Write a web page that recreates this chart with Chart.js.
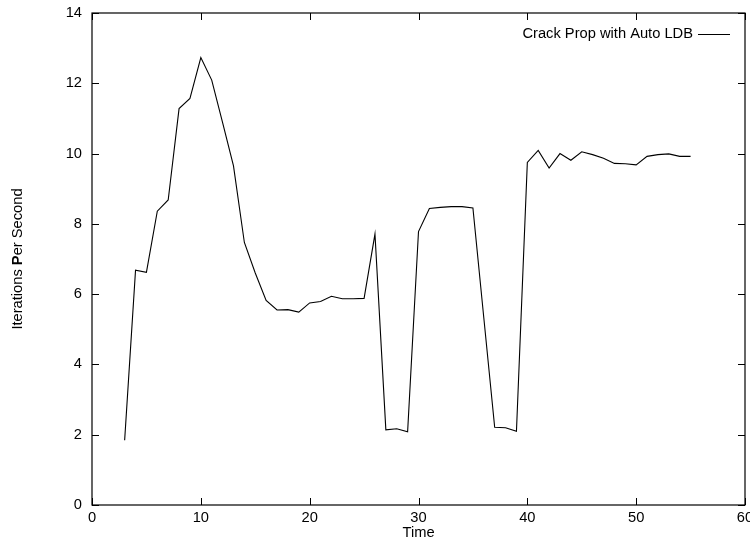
<!DOCTYPE html>
<html>
<head>
<meta charset="utf-8">
<script src="https://cdn.jsdelivr.net/npm/chart.js@4"></script>
<style>
html, body { margin: 0; padding: 0; background: #fff; }
#wrap { width: 750px; height: 543px; }
</style>
</head>
<body>
<div id="wrap"><canvas id="crackChart"></canvas></div>
<script>
const times = [3, 4, 5, 6, 7, 8, 9, 10, 11, 12, 13, 14, 15, 16, 17, 18, 19, 20, 21, 22,
    23, 24, 25, 26, 27, 28, 29, 30, 31, 32, 33, 34, 35, 36, 37, 38, 39, 40, 41, 42,
    43, 44, 45, 46, 47, 48, 49, 50, 51, 52, 53, 54, 55]
const iterationsPerSecond = [1.84, 6.68, 6.62, 8.36, 8.68, 11.28, 11.57, 12.73, 12.09, 10.88,
    9.65, 7.47, 6.6, 5.82, 5.55, 5.56, 5.49, 5.75, 5.79, 5.94,
    5.87, 5.87, 5.88, 7.71, 2.14, 2.17, 2.08, 7.78, 8.44, 8.47,
    8.49, 8.49, 8.45, 5.33, 2.21, 2.2, 2.1, 9.75, 10.09, 9.59,
    10.0, 9.81, 10.05, 9.97, 9.87, 9.72, 9.71, 9.68, 9.92, 9.97,
    9.99, 9.92, 9.92]
const xTicks = [0, 10, 20, 30, 40, 50, 60]
const yTicks = [0, 2, 4, 6, 8, 10, 12, 14]
const seriesLabel = 'Crack Prop with Auto LDB'
const xTitle = 'Time'
const yTitleParts = [['Iterations ', false], ['P', true], ['er Second', false]]

const FONT = '14.7px "Liberation Sans", Arial, Helvetica, sans-serif'

// gnuplot-ish frame: box, inward mirrored ticks, labels and key
const gnuplotFrame = {
    id: 'gnuplotFrame',
    afterDraw(chart) {
        const ctx = chart.ctx
        const area = chart.chartArea
        const xs = chart.scales.x
        const ys = chart.scales.y
        const tick = 7

        ctx.save()
        ctx.strokeStyle = '#000'
        ctx.lineWidth = 1.2
        ctx.strokeRect(area.left, area.top, area.right - area.left, area.bottom - area.top)

        ctx.lineWidth = 1
        ctx.beginPath()
        xs.ticks.forEach(t => {
            const px = Math.round(xs.getPixelForValue(t.value)) + 0.5
            ctx.moveTo(px, area.bottom); ctx.lineTo(px, area.bottom - tick)
            ctx.moveTo(px, area.top); ctx.lineTo(px, area.top + tick)
        })
        ys.ticks.forEach(t => {
            const py = Math.round(ys.getPixelForValue(t.value)) + 0.5
            ctx.moveTo(area.left, py); ctx.lineTo(area.left + tick, py)
            ctx.moveTo(area.right, py); ctx.lineTo(area.right - tick, py)
        })
        ctx.stroke()

        ctx.fillStyle = '#000'
        ctx.font = FONT
        ctx.textBaseline = 'middle'
        ctx.textAlign = 'center'
        xs.ticks.forEach(t => {
            ctx.fillText(String(t.value), xs.getPixelForValue(t.value), area.bottom + 13)
        })
        ctx.textAlign = 'right'
        ys.ticks.forEach(t => {
            ctx.fillText(String(t.value), area.left - 10, ys.getPixelForValue(t.value))
        })

        // axis titles
        ctx.textAlign = 'center'
        ctx.fillText(xTitle, (area.left + area.right) / 2, area.bottom + 28)

        ctx.save()
        ctx.translate(17.5, (area.top + area.bottom) / 2)
        ctx.rotate(-Math.PI / 2)
        ctx.textAlign = 'left'
        let total = 0
        yTitleParts.forEach(([s, bold]) => {
            ctx.font = (bold ? 'bold ' : '') + FONT
            total += ctx.measureText(s).width
        })
        let x = -total / 2
        yTitleParts.forEach(([s, bold]) => {
            ctx.font = (bold ? 'bold ' : '') + FONT
            ctx.fillText(s, x, 0)
            x += ctx.measureText(s).width
        })
        ctx.restore()

        // key
        ctx.font = FONT
        ctx.textAlign = 'right'
        ctx.fillText(seriesLabel, 693, 34)
        ctx.beginPath()
        ctx.moveTo(698, 34.5)
        ctx.lineTo(730, 34.5)
        ctx.stroke()
        ctx.restore()
    }
}

new Chart(document.getElementById('crackChart'), {
    type: 'line',
    data: {
        datasets: [{
            label: seriesLabel,
            data: times.map((t, i) => ({ x: t, y: iterationsPerSecond[i] })),
            borderColor: '#000',
            borderWidth: 1.1,
            pointRadius: 0,
            tension: 0,
            fill: false
        }]
    },
    options: {
        responsive: true,
        maintainAspectRatio: false,
        animation: false,
        layout: { padding: { top: 13, right: 5, left: 0, bottom: 0 } },
        plugins: { legend: { display: false }, tooltip: { enabled: false } },
        scales: {
            x: {
                type: 'linear', min: 0, max: 60,
                afterBuildTicks: s => { s.ticks = xTicks.map(v => ({ value: v })) },
                afterFit: s => { s.height = 38 },
                ticks: { display: false },
                grid: { display: false },
                border: { display: false }
            },
            y: {
                type: 'linear', min: 0, max: 14,
                afterBuildTicks: s => { s.ticks = yTicks.map(v => ({ value: v })) },
                afterFit: s => { s.width = 92 },
                ticks: { display: false },
                grid: { display: false },
                border: { display: false }
            }
        }
    },
    plugins: [gnuplotFrame]
})
</script>
</body>
</html>
